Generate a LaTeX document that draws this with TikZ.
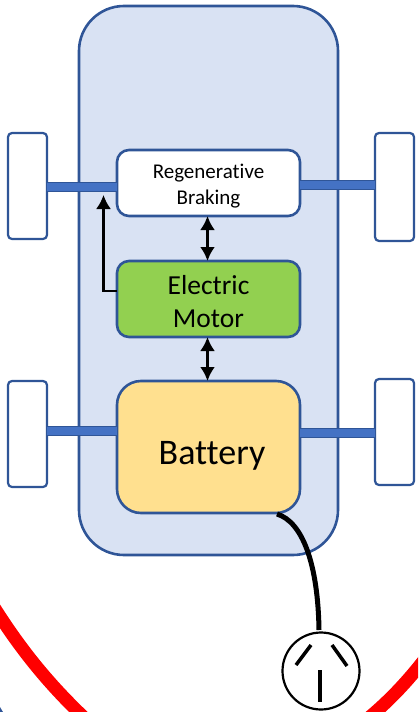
\documentclass[tikz,border=0pt]{standalone}
\usepackage{fontspec}
\setmainfont[Ligatures=NoCommon]{Carlito}
\usetikzlibrary{arrows.meta}
\definecolor{bodyblue}{HTML}{D9E2F3}
\definecolor{edgeblue}{HTML}{2F5597}
\definecolor{axleblue}{HTML}{4472C4}
\definecolor{motorgreen}{HTML}{92D050}
\definecolor{batteryyellow}{HTML}{FFE08F}

\begin{document}
\begin{tikzpicture}[x=1pt,y=-1pt,
                    part/.style={draw=edgeblue,line width=2.6pt,rounded corners=12pt,minimum width=183pt,align=center,inner sep=0pt,outer sep=0pt},
                    wheel/.style={draw=edgeblue,line width=2.2pt,fill=white,rounded corners=4pt,minimum width=39pt,minimum height=106pt,outer sep=0pt},
                    axle/.style={draw=edgeblue,line width=1pt,double=axleblue,double distance=8.5pt},
                    flow/.style={black,line width=2.6pt,{Latex[length=14pt,width=15pt]}-{Latex[length=14pt,width=15pt]}},
                    feed/.style={black,line width=2.4pt,-{Latex[length=14pt,width=15pt]}}]
    \useasboundingbox (0,0) rectangle (418,712);
    \clip (0,0) rectangle (418,712);
    \draw[red,line width=13pt] (-8,604) .. controls (22,652) and (52,688) .. (92,725);
    \draw[red,line width=13pt] (360,725) .. controls (385,705) and (405,685) .. (428,655);
    \fill[edgeblue] (0,707) -- (3,712) -- (0,712) -- cycle;
    \node[draw=edgeblue,line width=2.6pt,fill=bodyblue,rounded corners=45pt,minimum width=259pt,minimum height=549pt,inner sep=0pt] (chassis) at (208.5,280.5) {};
    \node[wheel] (wheelTL) at (27.5,186) {};
    \node[wheel,minimum height=108pt] (wheelTR) at (394.5,187) {};
    \node[wheel] (wheelBL) at (27.5,434) {};
    \node[wheel] (wheelBR) at (394.5,432) {};
    \node[part,fill=white,minimum height=66pt,font=\fontsize{21}{26}\selectfont] (braking) at (208.5,183) {\rule{0pt}{20pt}Regenerative\\Braking};
    \node[part,fill=motorgreen,minimum height=76pt,font=\fontsize{27.5}{33}\selectfont] (motor) at (208.5,299) {\rule{0pt}{25pt}Electric\\Motor};
    \node[part,fill=batteryyellow,minimum height=132pt,rounded corners=24pt,font=\fontsize{36}{42}\selectfont] (battery) at (208.5,447) {\hspace{7pt}\raisebox{-17pt}[0pt][0pt]{Battery}};
    \node[draw=black,line width=2.2pt,fill=white,circle,minimum size=77pt,inner sep=0pt] (socket) at (321,671) {};
    \coordinate (pinL1) at (311,645);
    \coordinate (pinL2) at (296,665);
    \coordinate (pinR1) at (332,645);
    \coordinate (pinR2) at (347,666);
    \coordinate (pinE1) at (320,670);
    \coordinate (pinE2) at (320,702);
    \coordinate (cable) at (277,514);
    \coordinate (cableEnd) at (319,630);
    \coordinate (brakeEnd) at (103.5,195);
    \draw[axle] (wheelTL.east |- 0,187) -- (braking.west |- 0,187);
    \draw[axle] (braking.east |- 0,185) -- (wheelTR.west |- 0,185);
    \draw[axle] (wheelBL.east |- 0,431) -- (battery.west |- 0,431);
    \draw[axle] (battery.east |- 0,433) -- (wheelBR.west |- 0,433);
    \path (braking.south) ++(-1,0) coordinate (flowA) (motor.north) ++(-1,0) coordinate (flowB);
    \path (motor.south) ++(-1,0) coordinate (flowC) (battery.north) ++(-1,0) coordinate (flowD);
    \draw[flow] (flowA) -- (flowB);
    \draw[flow] (flowC) -- (flowD);
    \draw[feed] (motor.west |- 0,291) -| (brakeEnd);
    \draw[black,line width=5pt] (cable) .. controls (303,522) and (318,565) .. (cableEnd);
    \draw[black,line width=3.5pt] (pinL1) -- (pinL2);
    \draw[black,line width=3.5pt] (pinR1) -- (pinR2);
    \draw[black,line width=3.5pt] (pinE1) -- (pinE2);
\end{tikzpicture}
\end{document}
